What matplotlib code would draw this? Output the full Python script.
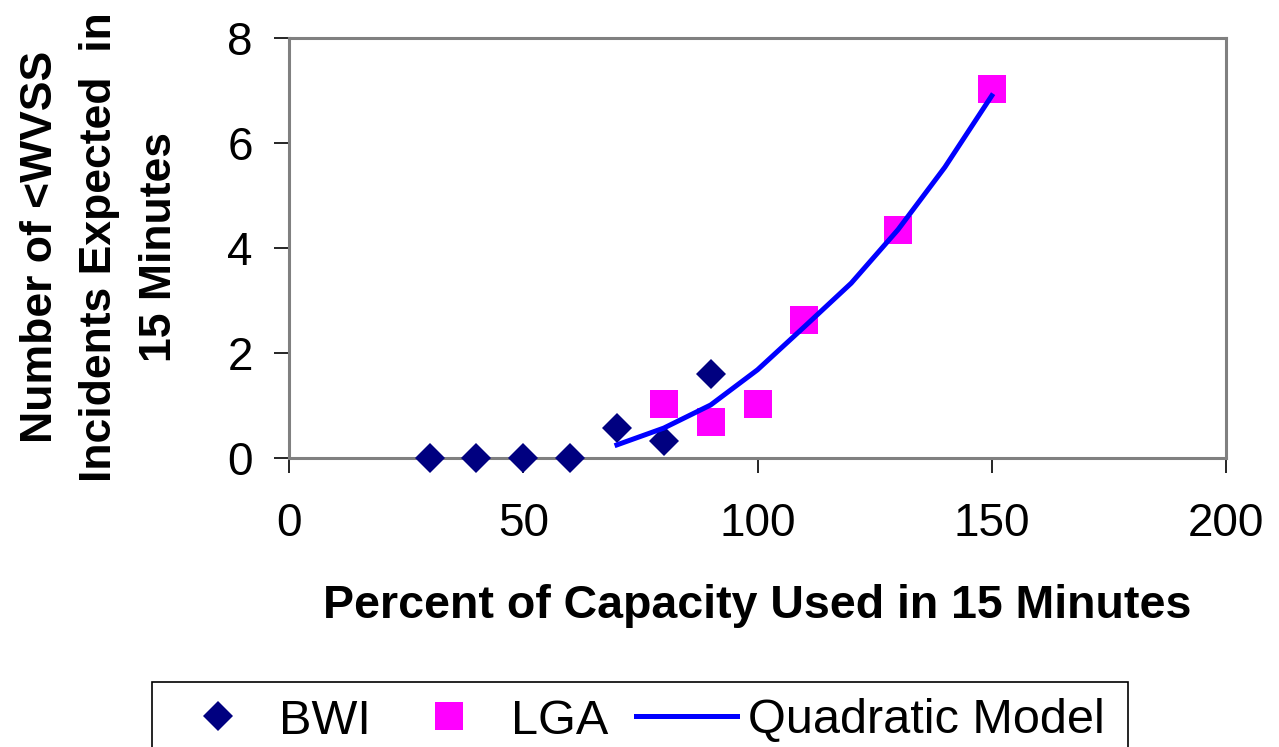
import matplotlib.pyplot as plt
from matplotlib.patches import Rectangle
from matplotlib.lines import Line2D

plt.rcParams['font.family'] = ['Liberation Sans', 'DejaVu Sans']

bwi_x = [30, 40, 50, 60, 70, 80, 90]
bwi_y = [0, 0, 0, 0, 0.58, 0.33, 1.6]
lga_x = [80, 90, 100, 110, 130, 150]
lga_y = [1.02, 0.68, 1.02, 2.62, 4.35, 7.02]
# quadratic model polyline
model_x = [70, 80, 90, 100, 110, 120, 130, 140, 150]
model_y = [0.25, 0.57, 1.01, 1.68, 2.5, 3.33, 4.35, 5.54, 6.9]

x_ticks = [0, 50, 100, 150, 200]
y_ticks = [0, 2, 4, 6, 8]

W, H = 1279, 747
fig = plt.figure(figsize=(W / 100, H / 100), dpi=100)
ax = fig.add_axes([289 / W, 1 - 458 / H, (1226 - 289) / W, (458 - 38) / H])

ax.plot(bwi_x, bwi_y, linestyle='none', marker='D', markersize=15.5,
        color='#000080', markeredgewidth=0, clip_on=False, zorder=3)
ax.plot(lga_x, lga_y, linestyle='none', marker='s', markersize=19.5,
        color='#FF00FF', markeredgewidth=0, clip_on=False, zorder=3)
ax.plot(model_x, model_y, color='#0000FF', linewidth=3.6, zorder=4)

ax.set_xlim(0, 200)
ax.set_ylim(0, 8)
ax.set_xticks(x_ticks)
ax.set_yticks(y_ticks)
ax.tick_params(axis='both', direction='out', length=11, width=1.2,
               color='black', labelsize=33)
ax.tick_params(axis='x', pad=21)
ax.tick_params(axis='y', pad=15)
for s in ax.spines.values():
    s.set_color('#808080')
    s.set_linewidth(2.2)

fig.text(100 / W, 1 - 247 / H,
         "Number of <WVSS\nIncidents Expected  in\n15 Minutes",
         rotation=90, ha='center', va='center', multialignment='center',
         fontsize=32, fontweight='bold', linespacing=1.58)
fig.text(757 / W, 1 - 606 / H, "Percent of Capacity Used in 15 Minutes",
         ha='center', va='center', fontsize=33.5, fontweight='bold')

# legend box running off the bottom edge
fig.patches.append(Rectangle((152 / W, -0.05), (1128 - 152) / W,
                             1 - 682 / H + 0.05, transform=fig.transFigure,
                             fill=False, edgecolor='black', linewidth=1.2))
handles = [
    Line2D([], [], linestyle='none', marker='D', markersize=15.5,
           color='#000080', markeredgewidth=0),
    Line2D([], [], linestyle='none', marker='s', markersize=19.5,
           color='#FF00FF', markeredgewidth=0),
    Line2D([], [], color='#0000FF', linewidth=3.6),
]
fig.legend(handles, ['BWI', 'LGA', 'Quadratic Model'], ncol=3,
           loc='center left', bbox_to_anchor=(167 / W, 1 - 721 / H),
           frameon=False, fontsize=35, handlelength=2.08,
           handletextpad=0.22, columnspacing=0.58, borderpad=0,
           borderaxespad=0)

fig.savefig('out.png', dpi=100)
